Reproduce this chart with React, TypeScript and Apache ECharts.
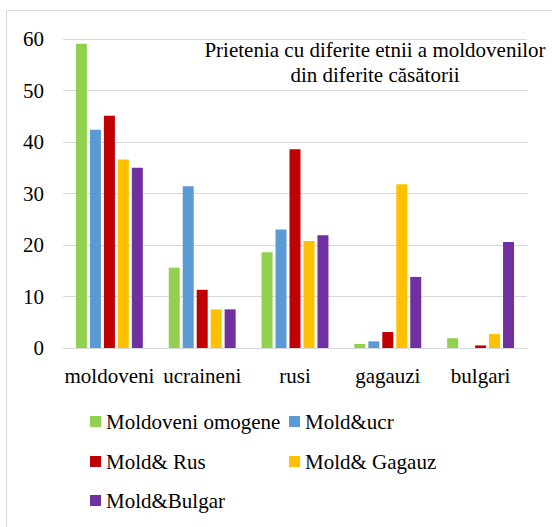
import React, { useEffect, useRef } from "react";
import * as echarts from "echarts";

const categories = ["moldoveni", "ucraineni", "rusi", "gagauzi", "bulgari"];
const seriesNames = ["Moldoveni omogene", "Mold&ucr", "Mold& Rus", "Mold& Gagauz", "Mold&Bulgar"];
const omogene = [59.1, 15.6, 18.6, 0.8, 1.9];
const moldUcr = [42.4, 31.4, 23.0, 1.3, 0];
const moldRus = [45.1, 11.3, 38.6, 3.1, 0.5];
const moldGagauz = [36.6, 7.5, 20.8, 31.8, 2.7];
const moldBulgar = [35.0, 7.5, 21.9, 13.8, 20.6];
const colors = ["#92D050", "#5B9BD5", "#C00000", "#FFC000", "#7030A0"];
const titleText = "Prietenia cu diferite etnii a moldovenilor\ndin diferite căsătorii";

const FONT = "Times New Roman, Liberation Serif, DejaVu Serif, serif";

export default function App() {
  const ref = useRef<HTMLDivElement>(null);
  useEffect(() => {
    if (!ref.current) return;
    const chart = echarts.init(ref.current, undefined, { renderer: "svg" });
    const values = [omogene, moldUcr, moldRus, moldGagauz, moldBulgar];
    const legendPos = [
      { left: 90, top: 411 },
      { left: 289, top: 411 },
      { left: 90, top: 451 },
      { left: 289, top: 451 },
      { left: 90, top: 490 },
    ];
    chart.setOption({
      animation: false,
      textStyle: { fontFamily: FONT },
      grid: { left: 63, right: 25, top: 39, bottom: 179 },
      graphic: [
        {
          type: "rect",
          shape: { x: 6.5, y: 10.5, width: 600, height: 600 },
          style: { fill: "none", stroke: "#d9d9d9", lineWidth: 1 },
          silent: true,
        },
        {
          type: "text",
          x: 375,
          y: 37,
          style: {
            text: titleText,
            fontFamily: FONT,
            fontSize: 21,
            lineHeight: 25,
            fill: "#000",
            align: "center",
            verticalAlign: "top",
          },
        },
      ],
      legend: seriesNames.map((n, i) => ({
        data: [n],
        left: legendPos[i].left,
        top: legendPos[i].top,
        padding: 0,
        icon: "rect",
        itemWidth: 11,
        itemHeight: 11,
        textStyle: { fontFamily: FONT, fontSize: 21, lineHeight: 21, color: "#000" },
      })),
      xAxis: {
        type: "category",
        data: categories,
        axisTick: { show: false },
        axisLine: { lineStyle: { color: "#d9d9d9", width: 1 } },
        axisLabel: { fontFamily: FONT, fontSize: 21, color: "#000", margin: 17, interval: 0 },
      },
      yAxis: {
        type: "value",
        min: 0,
        max: 60,
        interval: 10,
        axisLine: { show: false },
        axisTick: { show: false },
        splitLine: { lineStyle: { color: "#d9d9d9", width: 1 } },
        axisLabel: { fontFamily: FONT, fontSize: 21, color: "#000", margin: 19 },
      },
      series: seriesNames.map((n, i) => ({
        name: n,
        type: "bar",
        data: values[i],
        barWidth: 11,
        barGap: "27%",
        itemStyle: { color: colors[i] },
      })),
    });
    return () => chart.dispose();
  }, []);
  return (
    <div
      ref={ref}
      style={{ position: "fixed", left: 0, top: 0, width: 552, height: 527, background: "#fff" }}
    />
  );
}
